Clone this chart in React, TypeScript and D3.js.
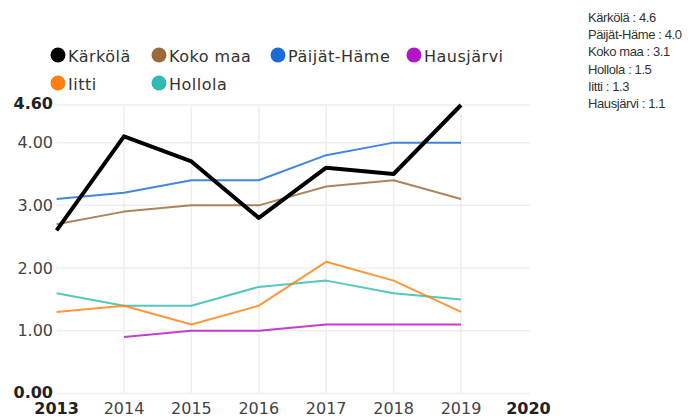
import React from "react";
import * as d3 from "d3";

const years = [2013, 2014, 2015, 2016, 2017, 2018, 2019];
const xTickYears = [2013, 2014, 2015, 2016, 2017, 2018, 2019, 2020];
const yTicks = [0, 1, 2, 3, 4, 4.6];

const seriesNames = ["Kärkölä", "Koko maa", "Päijät-Häme", "Hausjärvi", "Iitti", "Hollola"];
const seriesColors = ["#000000", "#9a6a38", "#1a6dd6", "#b414c4", "#ff8010", "#2fbab2"];
const karkola = [2.6, 4.1, 3.7, 2.8, 3.6, 3.5, 4.6];
const kokoMaa = [2.7, 2.9, 3.0, 3.0, 3.3, 3.4, 3.1];
const paijatHame = [3.1, 3.2, 3.4, 3.4, 3.8, 4.0, 4.0];
const hausjarvi = [null, 0.9, 1.0, 1.0, 1.1, 1.1, 1.1];
const iitti = [1.3, 1.4, 1.1, 1.4, 2.1, 1.8, 1.3];
const hollola = [1.6, 1.4, 1.4, 1.7, 1.8, 1.6, 1.5];
const seriesValues = [karkola, kokoMaa, paijatHame, hausjarvi, iitti, hollola];

const latestLabels = ["Kärkölä : 4.6", "Päijät-Häme : 4.0", "Koko maa : 3.1", "Hollola : 1.5", "Iitti : 1.3", "Hausjärvi : 1.1"];

const W = 699;
const H = 417;

export default function App() {
  const x = d3.scaleLinear().domain([2013, 2020]).range([56.6, 528.4]);
  const y = d3.scaleLinear().domain([0, 4.6]).range([393.5, 105]);

  const line = d3
    .line<number | null>()
    .defined((d) => d != null)
    .x((_, i) => x(years[i]))
    .y((d) => y(d as number));

  const legendPos = [
    { cx: 58, cy: 55 },
    { cx: 159, cy: 55 },
    { cx: 278, cy: 55 },
    { cx: 414, cy: 55 },
    { cx: 58, cy: 83 },
    { cx: 159, cy: 83 },
  ];

  const font = "'DejaVu Sans', sans-serif";

  return (
    <svg width={W} height={H} style={{ position: "absolute", left: 0, top: 0 }}>
      <rect width={W} height={H} fill="#fff" />
      {/* grid */}
      {yTicks.map((t) => (
        <line key={"gy" + t} x1={x(2013)} x2={x(2020) + 1.5} y1={y(t)} y2={y(t)} stroke="#efefef" strokeWidth={1.5} />
      ))}
      {xTickYears.slice(1, -1).map((t) => (
        <line key={"gx" + t} x1={x(t)} x2={x(t)} y1={y(4.6)} y2={y(0)} stroke="#efefef" strokeWidth={1.5} />
      ))}
      {/* y labels */}
      {yTicks.map((t) => {
        const edge = t === 0 || t === 4.6;
        const dy = t === 4.6 ? -1.5 : t === 0 ? -1.5 : 0;
        return (
          <text
            key={"yl" + t}
            x={53}
            y={y(t) + dy}
            textAnchor="end"
            dominantBaseline="central"
            fontFamily={font}
            fontSize={16}
            fontWeight={edge ? "bold" : "normal"}
            fill={edge ? "#222" : "#444"}
          >
            {d3.format(".2f")(t)}
          </text>
        );
      })}
      {/* x labels */}
      {xTickYears.map((t, i) => {
        const edge = i === 0 || i === xTickYears.length - 1;
        return (
          <text
            key={"xl" + t}
            x={x(t)}
            y={413.5}
            textAnchor="middle"
            fontFamily={font}
            fontSize={16}
            fontWeight={edge ? "bold" : "normal"}
            fill={edge ? "#222" : "#444"}
          >
            {t}
          </text>
        );
      })}
      {/* lines (draw Kärkölä last) */}
      {seriesValues
        .map((vals, i) => ({ vals, i }))
        .reverse()
        .map(({ vals, i }) => (
          <path
            key={"ln" + i}
            d={line(vals) || ""}
            fill="none"
            stroke={seriesColors[i]}
            strokeOpacity={i === 0 ? 1 : 0.82}
            strokeWidth={i === 0 ? 4 : 2}
            strokeLinejoin="round"
          />
        ))}
      {/* legend */}
      {seriesNames.map((name, i) => (
        <g key={"lg" + i}>
          <circle cx={legendPos[i].cx} cy={legendPos[i].cy} r={7.5} fill={seriesColors[i]} />
          <text
            x={legendPos[i].cx + 10}
            y={legendPos[i].cy + 1}
            dominantBaseline="central"
            fontFamily={font}
            fontSize={16}
            fill="#333"
            letterSpacing={0.5}
          >
            {name}
          </text>
        </g>
      ))}
      {/* latest values */}
      {latestLabels.map((s, i) => (
        <text
          key={"lv" + i}
          x={588}
          y={22 + i * 17.2}
          fontFamily="'Liberation Sans', Arial, sans-serif"
          fontSize={13}
          fill="#333"
          letterSpacing={-0.4}
        >
          {s}
        </text>
      ))}
    </svg>
  );
}
